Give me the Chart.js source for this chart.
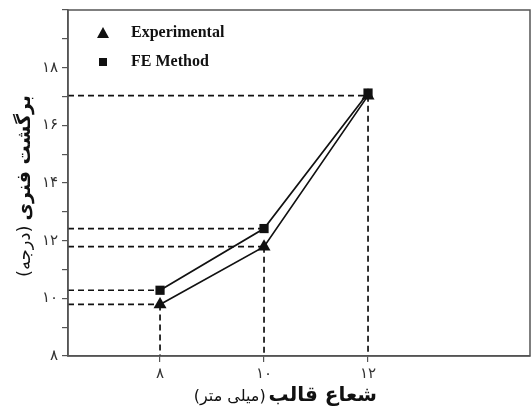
<!DOCTYPE html>
<html>
<head>
<meta charset="utf-8">
<script src="https://cdn.jsdelivr.net/npm/chart.js@4.4.1/dist/chart.umd.min.js"></script>
<style>
  html, body { margin: 0; background: #fff; overflow: hidden; }
  #wrap { width: 531px; height: 410px; position: relative; }
  canvas { display: block; }
</style>
</head>
<body>
<div id="wrap"><canvas id="springbackChart"></canvas></div>
<script>
// داده‌ها
const radii = [8, 10, 12];
const experimental = [9.79, 11.79, 17.03];
const feMethod = [10.28, 12.42, 17.12];

const xTickLabels = ['۸', '۱۰', '۱۲'];
const yTickValues = [8, 10, 12, 14, 16, 18];
const yTickLabels = ['۸', '۱۰', '۱۲', '۱۴', '۱۶', '۱۸'];

const X_MIN = 6.23, X_MAX = 15.115;
const Y_MIN = 8, Y_MAX = 20;

const INK = '#111';
const AXIS = '#555';

function guideDatasets() {
    const sets = [];
    const dash = { borderColor: INK, borderWidth: 1.7, borderDash: [6, 4], pointRadius: 0, showLine: true, fill: false };
    radii.forEach((r, i) => {
        // وقتی دو مقدار تقریباً برابرند فقط یک خط راهنما
        if (Math.abs(feMethod[i] - experimental[i]) > 0.15) {
            sets.push({ ...dash, data: [{ x: X_MIN, y: feMethod[i] }, { x: r, y: feMethod[i] }] });
        }
        sets.push({ ...dash, data: [{ x: X_MIN, y: experimental[i] }, { x: r, y: experimental[i] }] });
        sets.push({ ...dash, data: [{ x: r, y: experimental[i] }, { x: r, y: Y_MIN }] });
    });
    return sets;
}

const framePlugin = {
    id: 'frame',
    afterDatasetsDraw(chart) {
        const { ctx, chartArea: a } = chart;
        ctx.save();
        ctx.strokeStyle = AXIS;
        ctx.lineWidth = 1.5;
        ctx.strokeRect(a.left, a.top, a.right - a.left, a.bottom - a.top);
        ctx.restore();
    }
};

const legendPlugin = {
    id: 'innerLegend',
    afterDraw(chart) {
        const { ctx, chartArea: a } = chart;
        ctx.save();
        ctx.fillStyle = INK;
        // مثلث
        const tx = a.left + 35, ty = a.top + 23;
        ctx.beginPath();
        ctx.moveTo(tx, ty - 6);
        ctx.lineTo(tx + 6, ty + 5);
        ctx.lineTo(tx - 6, ty + 5);
        ctx.closePath();
        ctx.fill();
        // مربع
        ctx.fillRect(a.left + 31, a.top + 48, 8, 8);
        ctx.font = 'bold 16px "Liberation Serif"';
        ctx.textBaseline = 'middle';
        ctx.fillText('Experimental', a.left + 63, ty);
        ctx.fillText('FE Method', a.left + 63, a.top + 52);
        ctx.restore();
    }
};

const titlesPlugin = {
    id: 'mixedTitles',
    afterDraw(chart) {
        const { ctx } = chart;
        ctx.save();
        ctx.fillStyle = INK;
        ctx.direction = 'rtl';
        ctx.textAlign = 'right';
        ctx.textBaseline = 'alphabetic';

        // عنوان محور افقی
        ctx.font = 'bold 20px "DejaVu Sans"';
        ctx.fillText('شعاع قالب', 377, 401);
        const wx = ctx.measureText('شعاع قالب').width;
        ctx.font = '16px "DejaVu Sans"';
        ctx.fillText('(میلی متر)', 377 - wx - 3, 401);

        // عنوان محور عمودی
        ctx.translate(30, 95);
        ctx.rotate(-Math.PI / 2);
        ctx.font = 'bold 19px "DejaVu Sans"';
        ctx.fillText('برگشت فنری', 0, 0);
        const wy = ctx.measureText('برگشت فنری').width;
        ctx.font = '18px "DejaVu Sans"';
        ctx.fillText('(درجه)', -wy - 5, 0);
        ctx.restore();
    }
};

const ctx = document.getElementById('springbackChart').getContext('2d');

new Chart(ctx, {
    type: 'scatter',
    data: {
        datasets: [
            {
                label: 'Experimental',
                data: radii.map((r, i) => ({ x: r, y: experimental[i] })),
                showLine: true,
                borderColor: INK,
                backgroundColor: INK,
                borderWidth: 1.7,
                pointStyle: 'triangle',
                pointRadius: 7.5,
                pointBorderWidth: 0
            },
            {
                label: 'FE Method',
                data: radii.map((r, i) => ({ x: r, y: feMethod[i] })),
                showLine: true,
                borderColor: INK,
                backgroundColor: INK,
                borderWidth: 1.7,
                pointStyle: 'rect',
                pointRadius: 6.5,
                pointBorderWidth: 0
            },
            ...guideDatasets()
        ]
    },
    options: {
        responsive: true,
        maintainAspectRatio: false,
        animation: false,
        layout: { autoPadding: false, padding: { top: 10, right: 1, left: 0, bottom: 0 } },
        plugins: {
            legend: { display: false },
            tooltip: { enabled: false }
        },
        scales: {
            x: {
                type: 'linear',
                min: X_MIN,
                max: X_MAX,
                afterBuildTicks: scale => { scale.ticks = radii.map(v => ({ value: v })); },
                afterFit: scale => {
                    scale.height = 54;
                    scale.paddingLeft = 0;
                    scale.paddingRight = 0;
                },
                grid: { drawOnChartArea: false, drawTicks: true, tickLength: 6, color: AXIS, lineWidth: 1.2 },
                border: { display: true, color: AXIS, width: 1.5 },
                ticks: {
                    padding: 3,
                    color: '#333',
                    font: { family: 'DejaVu Sans', size: 15 },
                    callback: (v, i) => xTickLabels[i]
                }
            },
            y: {
                type: 'linear',
                min: Y_MIN,
                max: Y_MAX,
                afterFit: scale => {
                    scale.width = 68;
                    scale.paddingTop = 0;
                    scale.paddingBottom = 0;
                },
                grid: { drawOnChartArea: false, drawTicks: true, tickLength: 6, color: AXIS, lineWidth: 1.2 },
                border: { display: true, color: AXIS, width: 1.5 },
                ticks: {
                    stepSize: 1,
                    autoSkip: false,
                    padding: 4,
                    color: '#333',
                    font: { family: 'DejaVu Sans', size: 15 },
                    callback: v => {
                        const k = yTickValues.indexOf(v);
                        return k >= 0 ? yTickLabels[k] : '';
                    }
                }
            }
        }
    },
    plugins: [framePlugin, legendPlugin, titlesPlugin]
});
</script>
</body>
</html>
